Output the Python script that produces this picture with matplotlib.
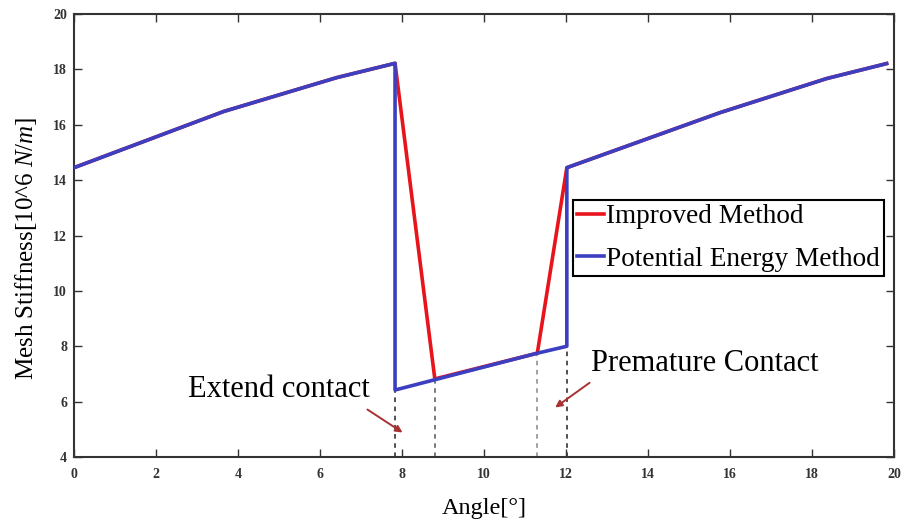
import matplotlib
matplotlib.use("Agg")
import matplotlib.pyplot as plt

plt.rcParams['font.family'] = ['Liberation Serif', 'DejaVu Serif']
plt.rcParams['mathtext.fontset'] = 'custom'
plt.rcParams['mathtext.rm'] = 'Liberation Serif'
plt.rcParams['mathtext.it'] = 'Liberation Serif:italic'

# potential energy method (blue)
pe_angle = [0.0, 3.65, 6.4, 7.83, 7.83, 11.3, 12.02, 12.02, 15.76, 18.36, 19.82]
pe_stiff = [14.45, 16.48, 17.7, 18.22, 6.42, 7.75, 8.0, 14.45, 16.44, 17.67, 18.21]

# improved method (red)
im_angle = [0.0, 3.65, 6.4, 7.83, 8.8, 11.3, 12.02, 15.76, 18.36, 19.82]
im_stiff = [14.45, 16.48, 17.7, 18.22, 6.82, 7.75, 14.45, 16.44, 17.67, 18.21]

# marker lines down to the axis
mark_x = [7.83, 8.8, 11.3, 12.02]
mark_top = [6.42, 6.82, 7.75, 8.0]
mark_col = ['#222222', '#555555', '#888888', '#222222']

x_ticks = [0, 2, 4, 6, 8, 10, 12, 14, 16, 18, 20]
y_ticks = [4, 6, 8, 10, 12, 14, 16, 18, 20]


def main():
    fig = plt.figure(figsize=(9.16, 5.21), dpi=100)
    ax = fig.add_axes([0.0808, 0.1228, 0.8952, 0.8503])

    for x, top, c in zip(mark_x, mark_top, mark_col):
        ax.plot([x, x], [4, top], color=c, lw=1.1, ls=(0, (3, 3)), zorder=1)

    ax.plot(im_angle, im_stiff, color='#e8141c', lw=2.6, label='Improved Method', zorder=2)
    ax.plot(pe_angle, pe_stiff, color='#3b3fc0', lw=2.6, label='Potential Energy Method', zorder=3)

    arrow = dict(arrowstyle='-|>', color='#a83232', lw=1.4, mutation_scale=10)
    ax.annotate('', xy=(8.07, 4.83), xytext=(7.10, 5.77), arrowprops=arrow)
    ax.annotate('', xy=(11.68, 5.73), xytext=(12.63, 6.74), arrowprops=arrow)
    ax.text(4.99, 6.45, 'Extend contact', fontsize=22, ha='center', va='center')
    ax.text(15.39, 7.37, 'Premature Contact', fontsize=22, ha='center', va='center')

    ax.set_xlim(0, 20)
    ax.set_ylim(4, 20)
    ax.set_xticks(x_ticks)
    ax.set_yticks(y_ticks)
    ax.tick_params(direction='in', top=True, right=True, length=6, width=1,
                   labelsize=10, color='#333333')
    ax.tick_params(axis='x', pad=8)
    ax.tick_params(axis='y', pad=5)
    for lab in ax.get_xticklabels() + ax.get_yticklabels():
        lab.set_fontweight('bold')
        lab.set_color('#333333')
    for s in ax.spines.values():
        s.set_linewidth(1.5)
        s.set_color('#333333')

    ax.set_xlabel('Angle[°]', fontsize=17.5, labelpad=12)
    ax.set_ylabel(r'Mesh Stiffness[10^6 $N/m$]', fontsize=18)
    ax.yaxis.set_label_coords(-0.043, 0.47)

    leg = ax.legend(loc='upper right', bbox_to_anchor=(0.988, 0.580), borderaxespad=0,
                    fontsize=19.6, handlelength=1.0, handletextpad=0.08, labelspacing=0.65,
                    borderpad=0.15, fancybox=False, framealpha=1)
    leg.get_frame().set_edgecolor('black')
    leg.get_frame().set_linewidth(1.5)

    fig.savefig('out.png', dpi=100)


if __name__ == "__main__":
    main()
